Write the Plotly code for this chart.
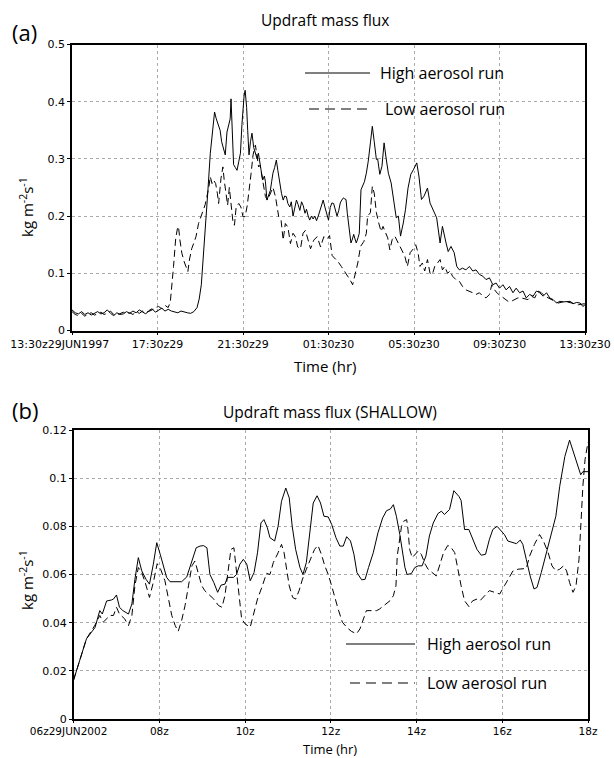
import plotly.graph_objects as go

# ---------------- Panel (a): hours since 13:30z 29 JUN 1997 ----------------
a_ticks = [0, 4, 8, 12, 16, 20, 24]
a_ticklabels = ["13:30z29JUN1997", "17:30z29", "21:30z29", "01:30z30", "05:30z30", "09:30Z30", "13:30z30"]

a_high_t = [0, 0.15, 0.3, 0.45, 0.6, 0.75, 0.9, 1.05, 1.2, 1.35, 1.5, 1.65, 1.8, 1.95, 2.1, 2.25, 2.4, 2.55,
            2.7, 2.85, 3.0, 3.15, 3.3, 3.45, 3.6, 3.75, 3.9, 4.05, 4.2, 4.35, 4.5, 4.65, 4.8, 4.95, 5.1, 5.25,
            5.4, 5.55, 5.7, 5.85, 5.95, 6.05, 6.15, 6.25, 6.35, 6.47, 6.57, 6.67, 6.75, 6.83, 6.93, 7.0, 7.1,
            7.17, 7.25, 7.33, 7.4, 7.44, 7.5, 7.56, 7.64, 7.72, 7.8, 7.88, 7.95, 8.0, 8.05, 8.1, 8.17, 8.22,
            8.28, 8.35, 8.42, 8.5, 8.58, 8.66, 8.72, 8.8, 8.85, 8.92, 9.0, 9.05, 9.12, 9.2, 9.28, 9.34, 9.4,
            9.48, 9.56, 9.63, 9.72, 9.8, 9.88, 9.95, 10.03, 10.1, 10.19, 10.26, 10.34, 10.42, 10.5, 10.58,
            10.66, 10.74, 10.82, 10.9, 10.97, 11.05, 11.12, 11.2, 11.28, 11.36, 11.44, 11.52, 11.6, 11.68,
            11.75, 11.83, 11.9, 12.0, 12.08, 12.16, 12.24, 12.32, 12.4, 12.48, 12.55, 12.62, 12.7, 12.76,
            12.82, 12.88, 12.94, 13.0, 13.05, 13.12, 13.18, 13.24, 13.3, 13.38, 13.44, 13.52, 13.6, 13.68,
            13.77, 13.86, 13.96, 14.05, 14.14, 14.24, 14.3, 14.4, 14.5, 14.6, 14.7, 14.8, 14.93, 15.05, 15.17,
            15.27, 15.37, 15.5, 15.6, 15.72, 15.85, 15.97, 16.13, 16.23, 16.35, 16.47, 16.63, 16.75, 16.9,
            17.06, 17.22, 17.33, 17.5, 17.6, 17.73, 17.88, 18.0, 18.12, 18.27, 18.43, 18.59, 18.75, 18.9,
            19.06, 19.22, 19.37, 19.53, 19.69, 19.84, 20.0, 20.16, 20.31, 20.47, 20.63, 20.78, 20.94, 21.1,
            21.25, 21.41, 21.57, 21.73, 21.88, 22.04, 22.2, 22.35, 22.51, 22.67, 22.82, 22.98, 23.14, 23.3,
            23.45, 23.61, 23.77, 23.9, 24.0]
a_high = [0.036, 0.031, 0.029, 0.033, 0.028, 0.031, 0.027, 0.030, 0.033, 0.029, 0.031, 0.036, 0.030, 0.026,
          0.031, 0.028, 0.029, 0.033, 0.030, 0.034, 0.031, 0.036, 0.033, 0.029, 0.035, 0.038, 0.032, 0.036,
          0.039, 0.034, 0.037, 0.034, 0.033, 0.031, 0.034, 0.032, 0.031, 0.030, 0.033, 0.040, 0.055, 0.080,
          0.130, 0.180, 0.240, 0.310, 0.350, 0.382, 0.370, 0.362, 0.350, 0.330, 0.316, 0.307, 0.347, 0.360,
          0.370, 0.405, 0.350, 0.290, 0.285, 0.280, 0.295, 0.310, 0.360, 0.397, 0.410, 0.420, 0.390, 0.350,
          0.307, 0.330, 0.345, 0.320, 0.310, 0.300, 0.310, 0.290, 0.280, 0.263, 0.270, 0.260, 0.228, 0.235,
          0.245, 0.260, 0.275, 0.285, 0.298, 0.280, 0.257, 0.240, 0.228, 0.235, 0.234, 0.222, 0.216, 0.225,
          0.200, 0.215, 0.228, 0.220, 0.210, 0.225, 0.218, 0.205, 0.212, 0.200, 0.193, 0.200, 0.195, 0.200,
          0.192, 0.200, 0.210, 0.222, 0.228, 0.216, 0.205, 0.193, 0.215, 0.223, 0.222, 0.210, 0.200, 0.210,
          0.223, 0.228, 0.232, 0.230, 0.229, 0.205, 0.182, 0.165, 0.153, 0.160, 0.168, 0.160, 0.153, 0.162,
          0.170, 0.246, 0.252, 0.260, 0.275, 0.296, 0.328, 0.357, 0.330, 0.299, 0.300, 0.273, 0.287, 0.328,
          0.300, 0.275, 0.258, 0.223, 0.197, 0.200, 0.165, 0.188, 0.211, 0.249, 0.273, 0.281, 0.293, 0.270,
          0.229, 0.235, 0.249, 0.223, 0.211, 0.197, 0.153, 0.182, 0.153, 0.138, 0.147, 0.136, 0.112, 0.106,
          0.109, 0.106, 0.112, 0.104, 0.106, 0.098, 0.095, 0.089, 0.092, 0.080, 0.083, 0.074, 0.080, 0.071,
          0.077, 0.066, 0.074, 0.066, 0.069, 0.057, 0.063, 0.060, 0.069, 0.066, 0.060, 0.066, 0.057, 0.054,
          0.048, 0.051, 0.050, 0.050, 0.051, 0.047, 0.049, 0.048, 0.042, 0.045]

a_low_t = [0, 0.15, 0.3, 0.45, 0.6, 0.75, 0.9, 1.05, 1.2, 1.35, 1.5, 1.65, 1.8, 1.95, 2.1, 2.25, 2.4, 2.55,
           2.7, 2.85, 3.0, 3.15, 3.3, 3.45, 3.6, 3.75, 3.9, 4.05, 4.2, 4.35, 4.5, 4.6, 4.75, 4.85, 4.93, 4.98,
           5.05, 5.14, 5.25, 5.35, 5.42, 5.5, 5.6, 5.69, 5.8, 5.92, 6.03, 6.15, 6.23, 6.31, 6.4, 6.47, 6.55,
           6.62, 6.72, 6.8, 6.86, 6.97, 7.06, 7.12, 7.2, 7.28, 7.36, 7.44, 7.53, 7.6, 7.68, 7.8, 7.9, 8.0, 8.1,
           8.2, 8.28, 8.38, 8.47, 8.58, 8.66, 8.73, 8.8, 8.92, 9.05, 9.15, 9.28, 9.4, 9.52, 9.67, 9.78, 9.88,
           9.98, 10.1, 10.22, 10.34, 10.45, 10.56, 10.69, 10.81, 10.92, 11.03, 11.16, 11.31, 11.47, 11.63,
           11.78, 11.94, 12.05, 12.17, 12.3, 12.45, 12.6, 12.75, 12.88, 13.0, 13.13, 13.25, 13.37, 13.5,
           13.66, 13.77, 13.83, 13.96, 14.05, 14.14, 14.24, 14.35, 14.46, 14.55, 14.66, 14.77, 14.87, 14.98,
           15.1, 15.22, 15.35, 15.46, 15.57, 15.69, 15.82, 15.93, 16.08, 16.19, 16.28, 16.39, 16.5, 16.63,
           16.75, 16.86, 16.97, 17.1, 17.22, 17.33, 17.44, 17.57, 17.69, 17.8, 17.96, 18.12, 18.27, 18.43,
           18.59, 18.75, 18.9, 19.06, 19.22, 19.37, 19.53, 19.64, 19.75, 19.9, 20.08, 20.24, 20.4, 20.55,
           20.71, 20.86, 21.02, 21.18, 21.33, 21.49, 21.65, 21.8, 21.96, 22.12, 22.27, 22.43, 22.59, 22.75,
           23.06, 23.37, 23.69, 24.0]
a_low = [0.033, 0.028, 0.026, 0.030, 0.025, 0.029, 0.031, 0.027, 0.029, 0.032, 0.028, 0.030, 0.034, 0.028,
         0.027, 0.030, 0.032, 0.029, 0.031, 0.028, 0.033, 0.030, 0.034, 0.031, 0.033, 0.036, 0.040, 0.042,
         0.038, 0.044, 0.040, 0.050, 0.112, 0.160, 0.178, 0.182, 0.158, 0.135, 0.120, 0.110, 0.103, 0.125,
         0.143, 0.152, 0.164, 0.187, 0.200, 0.210, 0.220, 0.234, 0.250, 0.269, 0.257, 0.263, 0.257, 0.240,
         0.222, 0.266, 0.286, 0.263, 0.245, 0.219, 0.250, 0.222, 0.190, 0.184, 0.216, 0.222, 0.216, 0.199,
         0.199, 0.219, 0.240, 0.275, 0.307, 0.324, 0.304, 0.286, 0.289, 0.263, 0.234, 0.228, 0.240, 0.250,
         0.234, 0.199, 0.193, 0.158, 0.187, 0.181, 0.152, 0.170, 0.164, 0.146, 0.143, 0.170, 0.175, 0.158,
         0.143, 0.158, 0.164, 0.146, 0.164, 0.160, 0.166, 0.131, 0.126, 0.120, 0.112, 0.104, 0.097, 0.089,
         0.080, 0.100, 0.118, 0.147, 0.156, 0.170, 0.200, 0.206, 0.252, 0.240, 0.206, 0.188, 0.173, 0.182,
         0.170, 0.162, 0.141, 0.159, 0.165, 0.156, 0.147, 0.136, 0.130, 0.112, 0.136, 0.141, 0.150, 0.136,
         0.112, 0.118, 0.104, 0.124, 0.100, 0.098, 0.112, 0.118, 0.124, 0.106, 0.112, 0.100, 0.104, 0.095,
         0.089, 0.086, 0.077, 0.071, 0.069, 0.066, 0.063, 0.066, 0.060, 0.057, 0.063, 0.080, 0.072, 0.065,
         0.060, 0.055, 0.051, 0.051, 0.054, 0.057, 0.057, 0.055, 0.054, 0.060, 0.057, 0.069, 0.066, 0.060,
         0.057, 0.054, 0.051, 0.048, 0.051, 0.048, 0.045, 0.047]

# ---------------- Panel (b): hours since 06z 29 JUN 2002 ----------------
b_ticks = [0, 2, 4, 6, 8, 10, 12]
b_ticklabels = ["06z29JUN2002", "08z", "10z", "12z", "14z", "16z", "18z"]

b_high_t = [0, 0.15, 0.3, 0.5, 0.61, 0.67, 0.77, 0.88, 0.93, 1.0, 1.07, 1.15, 1.28, 1.36, 1.43, 1.51, 1.59,
            1.69, 1.77, 1.86, 1.94, 2.02, 2.09, 2.17, 2.25, 2.41, 2.52, 2.64, 2.73, 2.86, 2.95, 3.03, 3.11,
            3.18, 3.27, 3.36, 3.44, 3.53, 3.59, 3.73, 3.8, 3.88, 3.96, 4.04, 4.12, 4.21, 4.29, 4.37, 4.44,
            4.52, 4.58, 4.69, 4.77, 4.85, 4.95, 5.03, 5.1, 5.18, 5.28, 5.35, 5.43, 5.51, 5.59, 5.68, 5.76,
            5.84, 5.94, 6.02, 6.12, 6.21, 6.29, 6.37, 6.46, 6.54, 6.61, 6.72, 6.8, 6.88, 6.99, 7.1, 7.21, 7.3,
            7.39, 7.46, 7.53, 7.61, 7.67, 7.73, 7.78, 7.88, 7.96, 8.04, 8.13, 8.22, 8.3, 8.39, 8.5, 8.58,
            8.65, 8.77, 8.87, 8.99, 9.04, 9.12, 9.22, 9.32, 9.41, 9.51, 9.61, 9.7, 9.78, 9.88, 9.98, 10.05,
            10.13, 10.25, 10.33, 10.42, 10.48, 10.56, 10.65, 10.74, 10.81, 10.91, 11.03, 11.14, 11.25, 11.34,
            11.46, 11.57, 11.69, 11.83, 11.88, 11.94, 12.0]
b_high = [0.0162, 0.025, 0.0333, 0.038, 0.045, 0.0436, 0.049, 0.0494, 0.0498, 0.0515, 0.0464, 0.045, 0.0436,
          0.0478, 0.058, 0.067, 0.0615, 0.058, 0.056, 0.0643, 0.0732, 0.0684, 0.0643, 0.0588, 0.057, 0.057,
          0.057, 0.059, 0.0636, 0.0711, 0.0718, 0.072, 0.0711, 0.06, 0.0567, 0.0526, 0.0556, 0.056, 0.0588,
          0.0588, 0.06, 0.0643, 0.0663, 0.0643, 0.0574, 0.0608, 0.069, 0.0814, 0.0828, 0.0794, 0.0753,
          0.0739, 0.08, 0.0904, 0.0959, 0.0918, 0.08, 0.0704, 0.0629, 0.06, 0.065, 0.0773, 0.0897, 0.0927,
          0.0897, 0.0842, 0.0839, 0.0808, 0.0753, 0.0718, 0.0718, 0.0757, 0.0739, 0.0684, 0.0608, 0.0578,
          0.058, 0.0629, 0.069, 0.0773, 0.0835, 0.0865, 0.0872, 0.089, 0.0842, 0.0766, 0.0704, 0.0629, 0.06,
          0.0604, 0.0629, 0.0636, 0.0636, 0.0677, 0.076, 0.0814, 0.0853, 0.0863, 0.0849, 0.087, 0.0948,
          0.0924, 0.0907, 0.0787, 0.0787, 0.0746, 0.0704, 0.068, 0.0684, 0.0746, 0.0787, 0.08, 0.078, 0.0766,
          0.0739, 0.0732, 0.0728, 0.0743, 0.0725, 0.0663, 0.0594, 0.054, 0.0546, 0.0608, 0.0691, 0.0773,
          0.0842, 0.0966, 0.109, 0.1158, 0.109, 0.1014, 0.1027, 0.1027, 0.1027]

b_low_t = [0, 0.15, 0.3, 0.5, 0.61, 0.69, 0.85, 0.93, 1.0, 1.07, 1.19, 1.28, 1.36, 1.43, 1.51, 1.59, 1.67,
           1.77, 1.86, 1.95, 2.03, 2.13, 2.21, 2.29, 2.37, 2.44, 2.52, 2.6, 2.68, 2.76, 2.83, 2.91, 2.99,
           3.06, 3.18, 3.27, 3.38, 3.46, 3.53, 3.61, 3.67, 3.74, 3.8, 3.86, 3.92, 4.0, 4.12, 4.19, 4.29, 4.39,
           4.5, 4.58, 4.66, 4.77, 4.85, 4.91, 4.97, 5.03, 5.11, 5.18, 5.26, 5.34, 5.43, 5.53, 5.62, 5.7,
           5.78, 5.86, 5.94, 6.02, 6.09, 6.17, 6.27, 6.37, 6.48, 6.6, 6.68, 6.76, 6.83, 6.95, 7.07, 7.14,
           7.26, 7.38, 7.46, 7.52, 7.55, 7.6, 7.65, 7.7, 7.77, 7.8, 7.84, 7.9, 7.96, 8.04, 8.11, 8.2, 8.27,
           8.37, 8.46, 8.56, 8.63, 8.73, 8.81, 8.89, 8.96, 9.04, 9.12, 9.22, 9.31, 9.41, 9.48, 9.59, 9.7,
           9.82, 9.94, 10.05, 10.16, 10.25, 10.37, 10.48, 10.56, 10.64, 10.75, 10.87, 10.96, 11.07, 11.16,
           11.25, 11.34, 11.43, 11.5, 11.57, 11.65, 11.72, 11.79, 11.84, 11.88, 11.93, 12.0]
b_low = [0.0162, 0.025, 0.0333, 0.039, 0.043, 0.0402, 0.043, 0.043, 0.0464, 0.0436, 0.0416, 0.0388, 0.043,
         0.0553, 0.0629, 0.0608, 0.0567, 0.0505, 0.0567, 0.0645, 0.0622, 0.0574, 0.0498, 0.043, 0.0388,
         0.0364, 0.0409, 0.0471, 0.0553, 0.0636, 0.0656, 0.0608, 0.0553, 0.0533, 0.0512, 0.0498, 0.0471,
         0.0464, 0.0512, 0.0615, 0.0704, 0.0711, 0.0608, 0.0512, 0.0416, 0.0395, 0.0381, 0.043, 0.0498,
         0.0546, 0.0605, 0.06, 0.065, 0.069, 0.0725, 0.069, 0.0629, 0.0553, 0.0505, 0.0498, 0.0533, 0.0581,
         0.0622, 0.0663, 0.0704, 0.0721, 0.0684, 0.0636, 0.06, 0.0553, 0.0505, 0.0457, 0.0402, 0.0381,
         0.0364, 0.0354, 0.0374, 0.0416, 0.045, 0.045, 0.045, 0.0457, 0.0474, 0.0491, 0.0512, 0.0553, 0.0677,
         0.0746, 0.08, 0.0821, 0.0828, 0.0787, 0.0704, 0.067, 0.0684, 0.0698, 0.0684, 0.0643, 0.0622, 0.0608,
         0.0594, 0.065, 0.0691, 0.0721, 0.0711, 0.0691, 0.0622, 0.0553, 0.0491, 0.0467, 0.0491, 0.0498,
         0.0491, 0.0512, 0.0533, 0.0526, 0.0519, 0.0553, 0.0588, 0.0615, 0.0622, 0.0622, 0.0625, 0.0677,
         0.0725, 0.0766, 0.0739, 0.0691, 0.0636, 0.0615, 0.0622, 0.0636, 0.0615, 0.0567, 0.0526, 0.0553,
         0.0663, 0.0828, 0.0966, 0.1076, 0.115]

W, H = 614, 758
def px(x): return x / W
def py(y): return 1 - y / H

TICKFONT = dict(family="DejaVu Sans", size=11, color="black")
TICKFONT_B = dict(family="DejaVu Sans", size=10.5, color="black")
TXT = "Open Sans"
solid = dict(color="black", width=1)
dashed = dict(color="black", width=1, dash="7px,4px")

# pad the long first tick label so it sits left of its tick, as in the original
NB = "\u00a0"
a_tt = [a_ticklabels[0] + NB * 7] + a_ticklabels[1:]
b_tt = [b_ticklabels[0] + NB * 3] + b_ticklabels[1:]

fig = go.Figure()
fig.add_trace(go.Scatter(x=a_high_t, y=a_high, mode="lines", line=solid, xaxis="x", yaxis="y", showlegend=False))
fig.add_trace(go.Scatter(x=a_low_t, y=a_low, mode="lines", line=dashed, xaxis="x", yaxis="y", showlegend=False))
fig.add_trace(go.Scatter(x=b_high_t, y=b_high, mode="lines", line=solid, xaxis="x2", yaxis="y2", showlegend=False))
fig.add_trace(go.Scatter(x=b_low_t, y=b_low, mode="lines", line=dashed, xaxis="x2", yaxis="y2", showlegend=False))

axcommon = dict(showline=True, linecolor="black", linewidth=1.5, mirror=True, ticks="outside",
                tickcolor="black", showgrid=True, gridcolor="#aaaaaa", gridwidth=1,
                griddash="dot", zeroline=False, automargin=False, tickangle=0)

fig.update_layout(
    width=W, height=H, margin=dict(l=0, r=0, t=0, b=0, autoexpand=False),
    paper_bgcolor="white", plot_bgcolor="white",
    xaxis=dict(domain=[px(72), px(585)], range=[0, 24], tickvals=a_ticks, ticktext=a_tt,
               anchor="y", ticklen=3, tickfont=TICKFONT, **axcommon),
    yaxis=dict(domain=[py(330.5), py(44.5)], range=[0, 0.5], dtick=0.1, anchor="x",
               ticklen=3, tickfont=TICKFONT, **axcommon),
    xaxis2=dict(domain=[px(73.6), px(588)], range=[0, 12], tickvals=b_ticks, ticktext=b_tt,
                anchor="y2", ticklen=2, tickfont=TICKFONT_B, **axcommon),
    yaxis2=dict(domain=[py(719), py(430)], range=[0, 0.12], dtick=0.02, anchor="x2",
                ticklen=3, tickfont=TICKFONT, **axcommon),
)

def ann(text, x, y, size, xanchor="center", textangle=0, family=TXT):
    fig.add_annotation(text=text, x=px(x), y=py(y), xref="paper", yref="paper", showarrow=False,
                       xanchor=xanchor, yanchor="middle", textangle=textangle,
                       font=dict(family=family, size=size, color="black"))

ann("(a)", 10, 32, 22, xanchor="left")
ann("Updraft mass flux", 325, 20, 15.5)
ann("Time (hr)", 325, 366, 15)
ann("kg m<sup>-2</sup>s<sup>-1</sup>", 26, 207, 15, textangle=-90)
ann("(b)", 10, 410, 22, xanchor="left")
ann("Updraft mass flux (SHALLOW)", 330, 412, 15.5)
ann("Time (hr)", 330, 749, 13)
ann("kg m<sup>-2</sup>s<sup>-1</sup>", 26, 580, 15, textangle=-90)

# legends
def legline(x0, x1, y, dash):
    fig.add_shape(type="line", xref="paper", yref="paper", x0=px(x0), x1=px(x1), y0=py(y), y1=py(y),
                  line=dict(color="black", width=1, dash=dash))

legline(305, 370, 73, "solid")
ann("High aerosol run", 378, 73, 16, xanchor="left")
legline(309, 370, 109, "10px,6px")
ann("Low aerosol run", 383, 109, 16, xanchor="left")
legline(346, 415, 644, "solid")
ann("High aerosol run", 425, 644, 16, xanchor="left")
legline(350, 415, 683, "10px,6px")
ann("Low aerosol run", 425, 683, 16, xanchor="left")

fig.write_html("out.html")
